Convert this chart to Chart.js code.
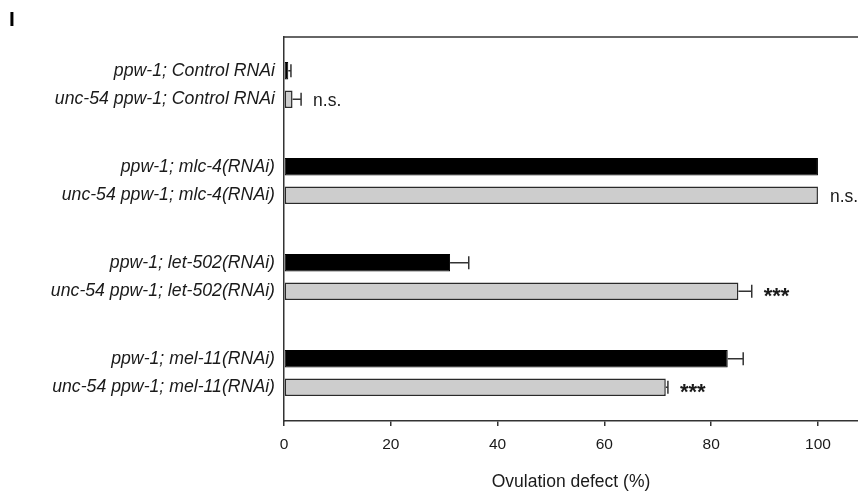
<!DOCTYPE html>
<html lang="en">
<head>
<meta charset="UTF-8">
<title>Ovulation defect</title>
<script src="https://cdn.jsdelivr.net/npm/chart.js"></script>
<style>
  html, body { margin: 0; padding: 0; background: #fff; }
  #wrap { width: 858px; height: 492px; position: relative; }
</style>
</head>
<body>
<div id="wrap"><canvas id="ovulationChart"></canvas></div>
<script>
// one group per RNAi treatment, two strains in each
const groupLabels = [
  ['ppw-1; Control RNAi', 'unc-54 ppw-1; Control RNAi'],
  ['ppw-1; mlc-4(RNAi)', 'unc-54 ppw-1; mlc-4(RNAi)'],
  ['ppw-1; let-502(RNAi)', 'unc-54 ppw-1; let-502(RNAi)'],
  ['ppw-1; mel-11(RNAi)', 'unc-54 ppw-1; mel-11(RNAi)']
];
const ppw1Values = [0.8, 100, 31.1, 83.1];
const ppw1Errors = [0.5, 0, 3.5, 2.9];
const unc54Values = [1.6, 100, 85.1, 71.5];
const unc54Errors = [1.6, 0, 2.5, 0.4];
const unc54Marks = ['n.s.', 'n.s.', '***', '***'];
const xTicks = [0, 20, 40, 60, 80, 100];
const xTitle = 'Ovulation defect (%)';
const panelLetter = 'I';

const FONT = 'Liberation Sans, Arial, Helvetica, sans-serif';
const INK = '#333';

Chart.defaults.font.family = FONT;
Chart.defaults.color = '#1a1a1a';

// error bars (right side only) + significance marks
const errorBars = {
  id: 'errorBars',
  afterDatasetsDraw(chart) {
    const ctx = chart.ctx;
    const xs = chart.scales.x;
    ctx.save();
    ctx.strokeStyle = INK;
    ctx.lineWidth = 1.5;
    chart.data.datasets.forEach((ds, i) => {
      const meta = chart.getDatasetMeta(i);
      meta.data.forEach((bar, j) => {
        const err = ds.errors[j];
        const ex = xs.getPixelForValue(ds.data[j] + err);
        if (err) {
          ctx.beginPath();
          ctx.moveTo(bar.x, bar.y);
          ctx.lineTo(ex, bar.y);
          ctx.moveTo(ex, bar.y - 6.5);
          ctx.lineTo(ex, bar.y + 6.5);
          ctx.stroke();
        }
        if (ds.marks && ds.marks[j]) {
          const txt = ds.marks[j];
          ctx.font = txt === '***' ? 'bold 22px ' + FONT : '17.5px ' + FONT;
          ctx.fillStyle = '#1a1a1a';
          ctx.textAlign = 'left';
          ctx.textBaseline = 'alphabetic';
          const m = ctx.measureText(txt);
          const y = bar.y + 1.5 + (m.actualBoundingBoxAscent - m.actualBoundingBoxDescent) / 2;
          ctx.fillText(txt, Math.max(ex, bar.x) + 12, y);
        }
      });
    });
    ctx.restore();
  }
};

// top frame line and panel letter
const frame = {
  id: 'frame',
  afterDraw(chart) {
    const {ctx, chartArea} = chart;
    ctx.save();
    ctx.strokeStyle = INK;
    ctx.lineWidth = 1.5;
    ctx.beginPath();
    ctx.moveTo(chartArea.left, chartArea.top);
    ctx.lineTo(chart.width, chartArea.top);
    ctx.stroke();
    ctx.font = 'bold 21px ' + FONT;
    ctx.fillStyle = '#000';
    ctx.textBaseline = 'alphabetic';
    ctx.fillText(panelLetter, 9, 26);
    ctx.restore();
  }
};

new Chart(document.getElementById('ovulationChart'), {
  type: 'bar',
  data: {
    labels: groupLabels,
    datasets: [{
      data: ppw1Values,
      errors: ppw1Errors,
      backgroundColor: '#000',
      borderColor: '#000',
      borderWidth: 1,
      borderSkipped: false
    }, {
      data: unc54Values,
      errors: unc54Errors,
      marks: unc54Marks,
      backgroundColor: '#cdcdcd',
      borderColor: '#2a2a2a',
      borderWidth: 1.5,
      borderSkipped: false
    }]
  },
  options: {
    indexAxis: 'y',
    responsive: true,
    maintainAspectRatio: false,
    animation: false,
    layout: { padding: { top: 33, left: 0, right: 0, bottom: 0 } },
    categoryPercentage: 0.59,
    barPercentage: 0.62,
    plugins: { legend: { display: false }, tooltip: { enabled: false } },
    scales: {
      x: {
        min: 0,
        max: 107.5,
        afterBuildTicks: s => { s.ticks = xTicks.map(v => ({ value: v })); },
        afterFit: s => { s.height = 71; },
        grid: { display: true, drawOnChartArea: false, drawTicks: true, tickLength: 5, color: INK, lineWidth: 1.5 },
        border: { display: true, color: INK, width: 1.5 },
        ticks: { font: { size: 15.5 }, padding: 9, color: '#1a1a1a', maxRotation: 0 },
        title: { display: true, text: xTitle, font: { size: 17.5, lineHeight: 1.1 }, padding: { top: 0, bottom: 0 }, color: '#1a1a1a' }
      },
      y: {
        afterFit: s => { s.width = 284; },
        grid: { display: false, drawTicks: false },
        border: { display: true, color: INK, width: 1.5 },
        ticks: { font: { size: 17.7, style: 'italic', lineHeight: 1.582 }, padding: 9, color: '#1a1a1a' }
      }
    }
  },
  plugins: [errorBars, frame]
});
</script>
</body>
</html>
